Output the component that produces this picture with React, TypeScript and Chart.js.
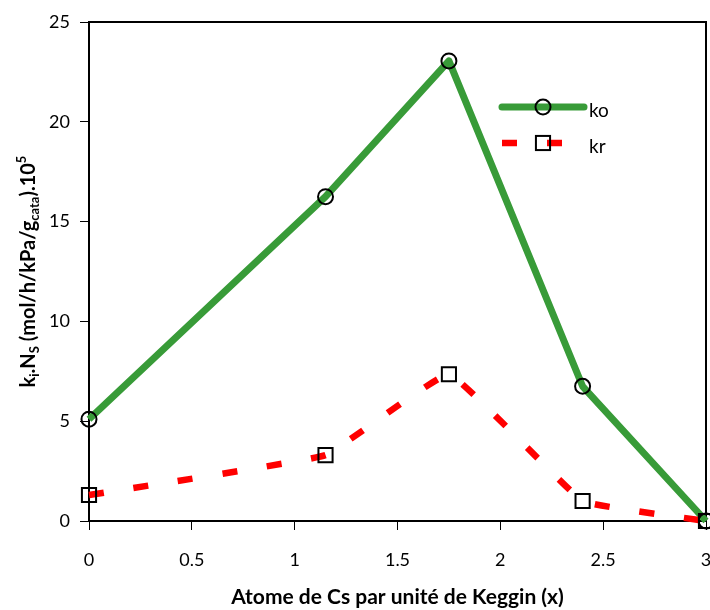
import React, { useEffect, useRef } from "react";
import { Chart, registerables } from "chart.js";

Chart.register(...registerables);

// Cs atoms per Keggin unit (x) and the two rate constants (×10^5)
const cesiumPerKeggin = [0, 1.15, 1.75, 2.4, 3];
const koValues = [5.1, 16.25, 23.05, 6.75, 0];
const krValues = [1.3, 3.3, 7.35, 1.0, 0];
const seriesNames = ["ko", "kr"];

const xTickValues = [0, 0.5, 1, 1.5, 2, 2.5, 3];
const yTickValues = [0, 5, 10, 15, 20, 25];

const xTitle = "Atome de Cs par unité de Keggin (x)";
// y-axis title split into normal, subscript and superscript runs
const yTitleParts: [string, "base" | "sub" | "sup"][] = [
  ["k", "base"],
  ["i", "sub"],
  [".N", "base"],
  ["S", "sub"],
  [" (mol/h/kPa/g", "base"],
  ["cata", "sub"],
  [").10", "base"],
  ["5", "sup"],
];

const FONT = "Lato, 'Open Sans', sans-serif";
const GREEN = "#389b38";
const RED = "#ff0000";

// black box around the plotting area
const framePlugin = {
  id: "plotFrame",
  beforeDatasetsDraw(chart: any) {
    const { ctx, chartArea: a } = chart;
    ctx.save();
    ctx.strokeStyle = "#000";
    ctx.lineWidth = 2;
    ctx.strokeRect(a.left, a.top, a.right - a.left, a.bottom - a.top);
    ctx.restore();
  },
};

// rotated y-axis title with sub/superscripts
const yTitlePlugin = {
  id: "richYTitle",
  afterDraw(chart: any) {
    const { ctx, chartArea } = chart;
    const fonts = {
      base: `bold 20px ${FONT}`,
      sub: `bold 13px ${FONT}`,
      sup: `bold 13px ${FONT}`,
    };
    const shift = { base: 0, sub: 4, sup: -9 };
    ctx.save();
    let total = 0;
    for (const [t, k] of yTitleParts) {
      ctx.font = fonts[k];
      total += ctx.measureText(t).width;
    }
    const cy = (chartArea.top + chartArea.bottom) / 2;
    ctx.translate(35, cy);
    ctx.rotate(-Math.PI / 2);
    ctx.fillStyle = "#000";
    ctx.textBaseline = "alphabetic";
    ctx.textAlign = "left";
    let x = -total / 2;
    for (const [t, k] of yTitleParts) {
      ctx.font = fonts[k];
      ctx.fillText(t, x, shift[k]);
      x += ctx.measureText(t).width;
    }
    ctx.restore();
  },
};

// series key inside the plot: line sample, marker and name
const keyPlugin = {
  id: "seriesKey",
  afterDraw(chart: any) {
    const { ctx } = chart;
    const rows = [107, 143];
    const lineStart = 502;
    const lineEnd = 584;
    const markerX = 543;
    const textX = 589;
    chart.data.datasets.forEach((ds: any, i: number) => {
      const y = rows[i];
      ctx.save();
      ctx.strokeStyle = ds.borderColor;
      ctx.lineWidth = ds.borderWidth;
      ctx.setLineDash(ds.borderDash || []);
      ctx.lineCap = ds.borderDash ? "butt" : "round";
      ctx.beginPath();
      ctx.moveTo(lineStart, y);
      ctx.lineTo(lineEnd, y);
      ctx.stroke();
      ctx.setLineDash([]);
      ctx.lineWidth = ds.pointBorderWidth;
      ctx.strokeStyle = ds.pointBorderColor;
      if (ds.pointStyle === "rect") {
        const h = ds.pointRadius * Math.SQRT1_2;
        ctx.strokeRect(markerX - h, y - h, 2 * h, 2 * h);
      } else {
        ctx.beginPath();
        ctx.arc(markerX, y, ds.pointRadius, 0, Math.PI * 2);
        ctx.stroke();
      }
      ctx.fillStyle = "#000";
      ctx.font = `19px ${FONT}`;
      ctx.textBaseline = "alphabetic";
      ctx.textAlign = "left";
      ctx.fillText(ds.label, textX, y + 10);
      ctx.restore();
    });
  },
};

export default function App() {
  const canvasRef = useRef<HTMLCanvasElement | null>(null);

  useEffect(() => {
    const canvas = canvasRef.current;
    if (!canvas) return;

    const tickFont = { family: FONT, size: 18 };
    const tickGrid = {
      display: true,
      drawOnChartArea: false,
      drawTicks: true,
      tickLength: 9,
      color: "#000",
      lineWidth: 1,
    };

    const chart = new Chart(canvas, {
      type: "line",
      data: {
        datasets: [
          {
            label: seriesNames[0],
            data: cesiumPerKeggin.map((x, i) => ({ x, y: koValues[i] })),
            borderColor: GREEN,
            borderWidth: 7,
            borderJoinStyle: "round",
            tension: 0,
            fill: false,
            pointStyle: "circle",
            pointRadius: 7.5,
            pointBorderWidth: 2,
            pointBorderColor: "#000",
            pointBackgroundColor: "rgba(0,0,0,0)",
            clip: false,
            order: 2,
          },
          {
            label: seriesNames[1],
            data: cesiumPerKeggin.map((x, i) => ({ x, y: krValues[i] })),
            borderColor: RED,
            borderWidth: 6.5,
            borderDash: [15, 30],
            tension: 0.08,
            fill: false,
            pointStyle: "rect",
            pointRadius: 10,
            pointBorderWidth: 2,
            pointBorderColor: "#000",
            pointBackgroundColor: "rgba(0,0,0,0)",
            clip: false,
            order: 1,
          },
        ],
      } as any,
      options: {
        responsive: false,
        animation: false,
        devicePixelRatio: 1,
        events: [],
        layout: {
          autoPadding: false,
          padding: { top: 22, right: 4, bottom: 0, left: 0 },
        },
        plugins: {
          legend: { display: false },
          tooltip: { enabled: false },
        },
        scales: {
          x: {
            type: "linear",
            min: xTickValues[0],
            max: xTickValues[xTickValues.length - 1],
            afterBuildTicks: (scale: any) => {
              scale.ticks = xTickValues.map((value) => ({ value }));
            },
            afterFit: (scale: any) => {
              scale.height = 89;
              scale.paddingLeft = 0;
              scale.paddingRight = 0;
            },
            grid: tickGrid,
            border: { display: false },
            ticks: {
              color: "#000",
              font: tickFont,
              padding: 19,
              maxRotation: 0,
              autoSkip: false,
              callback: (v: any) => String(v),
            },
            title: {
              display: true,
              text: xTitle,
              color: "#000",
              font: { family: FONT, size: 21, weight: "bold" },
              padding: { top: 0, bottom: 0 },
            },
          },
          y: {
            type: "linear",
            min: yTickValues[0],
            max: yTickValues[yTickValues.length - 1],
            afterBuildTicks: (scale: any) => {
              scale.ticks = yTickValues.map((value) => ({ value }));
            },
            afterFit: (scale: any) => {
              scale.width = 89;
            },
            grid: tickGrid,
            border: { display: false },
            ticks: {
              color: "#000",
              font: tickFont,
              padding: 10,
              callback: (v: any) => String(v),
            },
            title: { display: false },
          },
        },
      } as any,
      plugins: [framePlugin, yTitlePlugin, keyPlugin],
    });

    return () => chart.destroy();
  }, []);

  return (
    <div
      style={{
        position: "absolute",
        left: 0,
        top: 0,
        width: 710,
        height: 610,
        background: "#fff",
      }}
    >
      <canvas ref={canvasRef} width={710} height={610} />
    </div>
  );
}
